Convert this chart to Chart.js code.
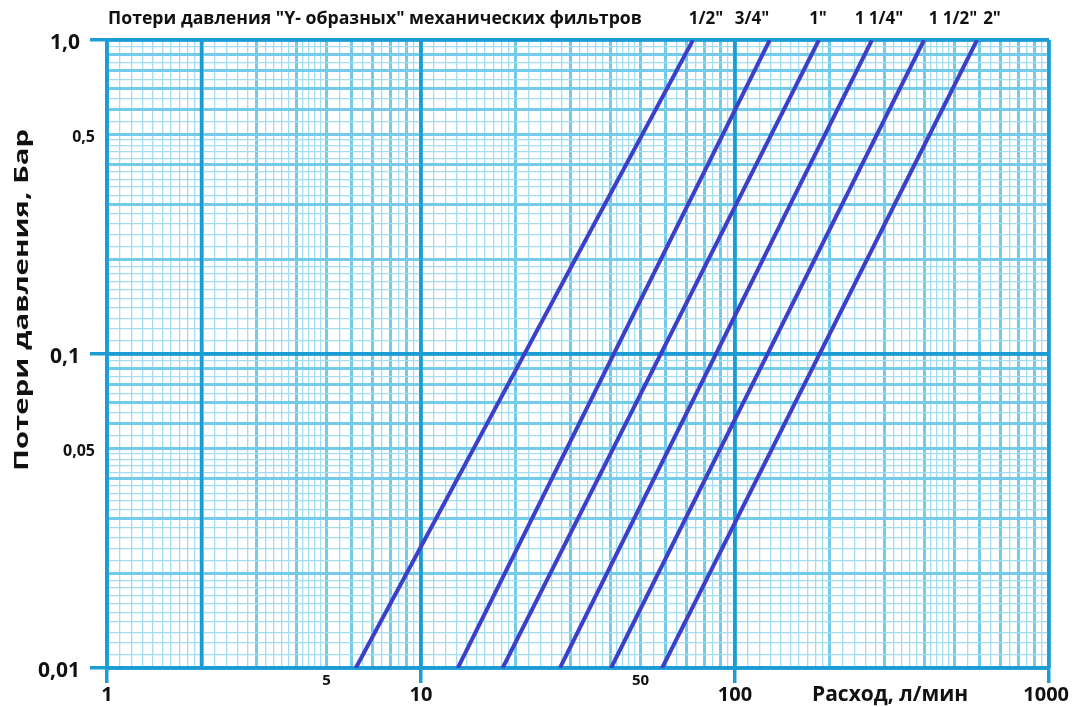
<!DOCTYPE html>
<html>
<head>
<meta charset="utf-8">
<script src="https://cdn.jsdelivr.net/npm/chart.js@4"></script>
<style>
  body { margin: 0; background: #fff; }
  canvas { display: block; }
</style>
</head>
<body>
<canvas id="lossChart" width="1076" height="707"></canvas>
<script>
// Filter sizes and flow (l/min) where each line meets 0,01 bar and 1,0 bar
const sizes = ['1/2"', '3/4"', '1"', '1 1/4"', '1 1/2"', '2"'];
const flowAtLow = [6.2, 13.1, 18.2, 27.7, 40.3, 58.6];
const flowAtHigh = [73.5, 129, 185, 273, 400, 590];
const pressureEnds = [0.01, 1.0];

// Axis labels
const xTickValues = [1, 5, 10, 50, 100, 1000];
const xTickLabels = ['1', '5', '10', '50', '100', '1000'];
const yTickValues = [0.01, 0.05, 0.1, 0.5, 1];
const yTickLabels = ['0,01', '0,05', '0,1', '0,5', '1,0'];

const title = 'Потери давления "Y- образных" механических фильтров';
const xTitle = 'Расход, л/мин';
const yTitle = 'Потери давления, Бар';

const FONT = '"Open Sans", "DejaVu Sans", sans-serif';
const DARK = '#1b9cd4';
const MID = '#74cbe9';
const FINE = '#a4dcf0';
const LINE = '#3c40c8';

// graph paper lines: 1-2 by 0.1, 2-5 by 0.2, 5-10 by 0.5 in each decade
function paperValues(min, max) {
  const out = [];
  for (let d = min; d < max * 0.999; d *= 10) {
    for (let m = 1; m < 1.999; m += 0.1) out.push(+(m * d).toPrecision(6));
    for (let m = 2; m < 4.999; m += 0.2) out.push(+(m * d).toPrecision(6));
    for (let m = 5; m < 9.999; m += 0.5) out.push(+(m * d).toPrecision(6));
  }
  out.push(max);
  return out;
}

function level(v) {
  const e = Math.floor(Math.log10(v) + 1e-9);
  const m = v / Math.pow(10, e);
  if (Math.abs(m - 1) < 1e-6) return 3;
  if (Math.abs(m - Math.round(m)) < 1e-6) return 2;
  return 1;
}

function xLevel(v) {
  if (Math.abs(v - 2) < 1e-6) return 3;
  return level(v);
}

const gridColor = lv => lv === 3 ? DARK : lv === 2 ? MID : FINE;
const gridWidth = lv => lv === 3 ? 3.5 : lv === 2 ? 3 : 1.3;

const datasets = sizes.map((s, i) => ({
  label: s,
  data: [
    { x: flowAtLow[i], y: pressureEnds[0] },
    { x: flowAtHigh[i], y: pressureEnds[1] }
  ],
  showLine: true,
  borderColor: LINE,
  borderWidth: 4,
  pointRadius: 0
}));

// keep the heavy lines on top of the light paper lines
const heavyLines = {
  id: 'heavyLines',
  beforeDatasetsDraw(chart) {
    const { ctx, chartArea: a, scales } = chart;
    ctx.save();
    ctx.strokeStyle = DARK;
    ctx.lineWidth = 3.5;
    scales.x.ticks.forEach(t => {
      if (xLevel(t.value) !== 3) return;
      const px = scales.x.getPixelForValue(t.value);
      ctx.beginPath();
      ctx.moveTo(px, a.top);
      ctx.lineTo(px, a.bottom);
      ctx.stroke();
    });
    scales.y.ticks.forEach(t => {
      if (level(t.value) !== 3) return;
      const py = scales.y.getPixelForValue(t.value);
      ctx.beginPath();
      ctx.moveTo(a.left, py);
      ctx.lineTo(a.right, py);
      ctx.stroke();
    });
    ctx.restore();
  }
};

const textPlugin = {
  id: 'texts',
  afterDraw(chart) {
    const ctx = chart.ctx;
    const xs = chart.scales.x;
    const ys = chart.scales.y;
    ctx.save();
    ctx.fillStyle = '#111';
    ctx.textBaseline = 'middle';

    // x tick labels
    xTickValues.forEach((v, i) => {
      const big = level(v) === 3;
      ctx.font = (big ? 'bold 20px ' : 'bold 15px ') + FONT;
      const w = ctx.measureText(xTickLabels[i]).width;
      let px = xs.getPixelForValue(v);
      px = Math.min(px, 1069 - w / 2);
      ctx.textAlign = 'center';
      ctx.fillText(xTickLabels[i], px, big ? 695 : 681);
    });

    // y tick labels
    yTickValues.forEach((v, i) => {
      const big = level(v) === 3;
      ctx.font = (big ? 'bold 21px ' : 'bold 16px ') + FONT;
      ctx.textAlign = 'right';
      ctx.fillText(yTickLabels[i], big ? 80 : 95, ys.getPixelForValue(v) + 3);
    });

    // titles
    ctx.textAlign = 'left';
    ctx.font = 'bold 17.7px ' + FONT;
    ctx.fillText(title, 108, 19);

    ctx.font = 'bold 21px ' + FONT;
    ctx.fillText(xTitle, 812, 695);

    ctx.save();
    ctx.translate(22, 300);
    ctx.rotate(-Math.PI / 2);
    ctx.textAlign = 'center';
    ctx.font = 'bold 20px ' + FONT;
    const stretch = 342 / ctx.measureText(yTitle).width;
    ctx.scale(stretch, 1);
    ctx.fillText(yTitle, 0, 0);
    ctx.restore();

    // size labels over the lines
    const labelX = [706, 752, 818, 879, 953, 992];
    ctx.font = 'bold 17px ' + FONT;
    ctx.textAlign = 'center';
    sizes.forEach((s, i) => ctx.fillText(s, labelX[i], 19));

    ctx.restore();
  }
};

new Chart(document.getElementById('lossChart'), {
  type: 'scatter',
  data: { datasets },
  options: {
    responsive: false,
    animation: false,
    layout: { padding: { left: 0, top: 40, right: 27, bottom: 0 } },
    plugins: {
      legend: { display: false },
      tooltip: { enabled: false }
    },
    scales: {
      x: {
        type: 'logarithmic',
        min: 1,
        max: 1000,
        afterBuildTicks: s => { s.ticks = paperValues(1, 1000).map(v => ({ value: v })); },
        afterFit: s => { s.height = 39; },
        ticks: { display: false },
        border: { color: DARK, width: 3.5 },
        grid: {
          color: c => gridColor(xLevel(c.tick.value)),
          lineWidth: c => gridWidth(xLevel(c.tick.value)),
          tickLength: 15,
          tickColor: c => level(c.tick.value) === 3 ? DARK : 'rgba(0,0,0,0)'
        }
      },
      y: {
        type: 'logarithmic',
        min: 0.01,
        max: 1,
        afterBuildTicks: s => { s.ticks = paperValues(0.01, 1).map(v => ({ value: v })); },
        afterFit: s => { s.width = 107; },
        ticks: { display: false },
        border: { color: DARK, width: 3.5 },
        grid: {
          color: c => gridColor(level(c.tick.value)),
          lineWidth: c => gridWidth(level(c.tick.value)),
          tickLength: 17,
          tickColor: c => level(c.tick.value) === 3 ? DARK : 'rgba(0,0,0,0)'
        }
      }
    }
  },
  plugins: [heavyLines, textPlugin]
});
</script>
</body>
</html>
